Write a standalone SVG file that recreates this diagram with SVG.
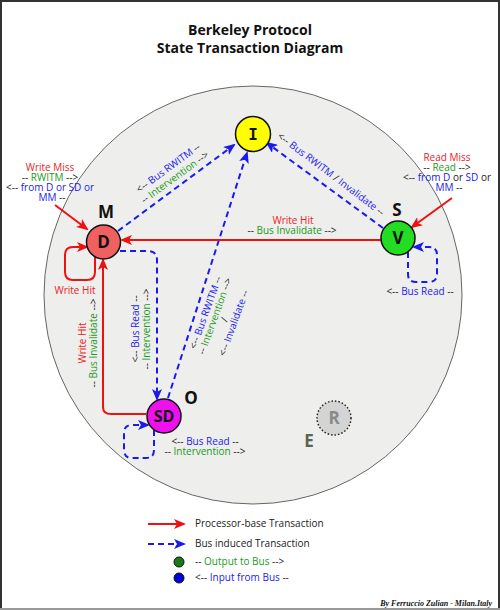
<svg xmlns="http://www.w3.org/2000/svg" width="500" height="610" viewBox="0 0 500 610">
<style>
text{font-family:"Open Sans","Noto Sans","DejaVu Sans",sans-serif;font-size:10px;fill:#222;}
.c{text-anchor:middle;}
.r{fill:#ee2222;}
.g{fill:#229922;}
.b{fill:#2222ee;}
.k{fill:#222;}
.state{font-size:17px;font-weight:bold;text-anchor:middle;fill:#111;}
.nl{font-size:17px;font-weight:bold;text-anchor:middle;fill:#111;}
.node{stroke:#111;stroke-width:1.5;}
.pt{fill:none;stroke:#ee1111;stroke-width:2;marker-end:url(#ar);}
.bt{fill:none;stroke:#1a1aee;stroke-width:2;stroke-dasharray:6,4;marker-end:url(#ab);}
</style>
<defs>
<marker id="ar" markerUnits="userSpaceOnUse" markerWidth="12" markerHeight="10" refX="10" refY="5" orient="auto"><path d="M0,0 L12,5 L0,10 L3,5 Z" fill="#ee1111"/></marker>
<marker id="ab" markerUnits="userSpaceOnUse" markerWidth="12" markerHeight="10" refX="10" refY="5" orient="auto"><path d="M0,0 L12,5 L0,10 L3,5 Z" fill="#1a1aee"/></marker>
</defs>
<rect x="0" y="0" width="500" height="610" fill="#ffffff"/>
<path d="M1,608 V1 H499 V608" fill="none" stroke="#333" stroke-width="2"/>
<line x1="0" y1="609" x2="500" y2="609" stroke="#999" stroke-width="2"/>
<text x="250" y="35" class="c" style="font-size:14px;font-weight:bold;fill:#111">Berkeley Protocol</text>
<text x="250" y="53" class="c" style="font-size:14px;font-weight:bold;fill:#111">State Transaction Diagram</text>
<circle cx="253" cy="295" r="209" fill="#eeeeec" stroke="#666" stroke-width="1"/>

<g id="connectors">
<path class="bt" d="M118,231 L234,145"/>
<path class="bt" d="M383,228 L267,143"/>
<path class="bt" d="M168,398 L247,153"/>
<path class="bt" d="M120,251 H148 Q157,251 157,260 V399"/>
<path class="bt" d="M154,430 V450 Q154,458 146,458 H132 Q124,458 124,450 V433 Q124,425 132,425 H148"/>
<path class="bt" d="M408,252 V274 Q408,282 416,282 H429 Q437,282 437,274 V255 Q437,247 429,247 H414"/>
<path class="pt" d="M95,257 V272 Q95,280 87,280 H73 Q65,280 65,272 V255 Q65,247 73,247 H87"/>
<path class="pt" d="M146,414 H111 Q103,414 103,407 V260"/>
<path class="pt" d="M381,240 H122"/>
<path class="pt" d="M55,205 L87,229"/>
<path class="pt" d="M452,198 L412,227"/>

<text x="50" y="171" class="c r">Write Miss</text>
<text x="50" y="181" class="c">-- <tspan class="g">RWITM</tspan> --&gt;</text>
<text x="50" y="191" class="c">&lt;-- <tspan class="b">from D or SD or</tspan></text>
<text x="52" y="201" class="c"><tspan class="b">MM</tspan> --</text>

<text x="447" y="161" class="c r">Read Miss</text>
<text x="447" y="171" class="c">-- <tspan class="g">Read</tspan> --&gt;</text>
<text x="447" y="181" class="c">&lt;-- <tspan class="b">from D</tspan> or <tspan class="b">SD</tspan> or</text>
<text x="449" y="191" class="c"><tspan class="b">MM</tspan> --</text>

<text x="75" y="294" class="c r">Write Hit</text>

<text x="293" y="224" class="c r">Write Hit</text>
<text x="292" y="234" class="c">-- <tspan class="g">Bus Invalidate</tspan> --&gt;</text>

<g transform="translate(88,343) rotate(-90)">
<text x="0" y="-2" class="c r">Write Hit</text>
<text x="0" y="8.5" class="c">-- <tspan class="g">Bus Invalidate</tspan> --&gt;</text>
</g>

<g transform="translate(141,329) rotate(-90)">
<text x="0" y="-2" class="c">&lt;-- <tspan class="b">Bus Read</tspan> --</text>
<text x="0" y="8.5" class="c">-- <tspan class="g">Intervention</tspan> --&gt;</text>
</g>

<g transform="translate(171.5,172.5) rotate(-36)">
<text x="0" y="-2.2" class="c">&lt;-- <tspan class="b">Bus RWITM</tspan> --</text>
<text x="0" y="9.2" class="c">-- <tspan class="g">Intervention</tspan> --&gt;</text>
</g>

<g transform="translate(331,174) rotate(37)">
<text x="0" y="3.5" class="c">&lt;-- <tspan class="b">Bus RWITM</tspan> / <tspan class="b">Invalidate</tspan> --</text>
</g>

<g transform="translate(220,318) rotate(-70)">
<text x="0" y="-12" class="c">&lt;-- <tspan class="b">Bus RWITM</tspan> --</text>
<text x="0" y="-2" class="c">-- <tspan class="g">Intervention</tspan> --&gt;</text>
<text x="0" y="8" class="c">/</text>
<text x="0" y="18" class="c">&lt;-- <tspan class="b">Invalidate</tspan> --</text>
</g>

<text x="420" y="295" class="c">&lt;-- <tspan class="b">Bus Read</tspan> --</text>
<text x="205" y="445" class="c">&lt;-- <tspan class="b">Bus Read</tspan> --</text>
<text x="205" y="455" class="c">-- <tspan class="g">Intervention</tspan> --&gt;</text>
</g>

<g id="node-I">
<circle class="node" cx="253" cy="134" r="17.5" fill="#ffff00"/>
<text x="253" y="140" class="nl" style="font-family:'DejaVu Sans Mono',monospace;font-size:16px">I</text>
</g>
<g id="node-D">
<circle class="node" cx="103.5" cy="242" r="17" fill="#f06060"/>
<text x="103.5" y="248" class="nl">D</text>
<text x="106" y="218" class="state">M</text>
</g>
<g id="node-V">
<circle class="node" cx="398" cy="238" r="17" fill="#22dd22"/>
<text x="398" y="244" class="nl">V</text>
<text x="397" y="216" class="state">S</text>
</g>
<g id="node-SD">
<circle class="node" cx="164" cy="416" r="17" fill="#ee11ee"/>
<text x="164" y="422" class="nl" style="font-size:16px">SD</text>
<text x="191" y="404" class="state">O</text>
</g>
<g id="node-R">
<circle cx="334" cy="418" r="17" fill="#d4d4d4" stroke="#222" stroke-width="1.5" stroke-dasharray="1.5,2"/>
<text x="334" y="424" class="nl" style="fill:#8a8a8a">R</text>
<text x="309" y="447" class="state" style="fill:#556655">E</text>
</g>

<g id="legend">
<path class="pt" d="M148,524 H184"/>
<text x="195" y="527">Processor-base Transaction</text>
<path class="bt" d="M148,544 H184"/>
<text x="195" y="547">Bus induced Transaction</text>
<circle cx="179" cy="562" r="5" fill="#1a7a1a" stroke="#111" stroke-width="1"/>
<text x="195" y="565">-- <tspan class="g">Output to Bus</tspan> --&gt;</text>
<circle cx="179" cy="578" r="5" fill="#0000dd" stroke="#111" stroke-width="1"/>
<text x="195" y="581">&lt;-- <tspan class="b">Input from Bus</tspan> --</text>
</g>
<text x="492" y="606" style="font-family:'Liberation Serif',serif;font-size:8px;font-style:italic;font-weight:bold;text-anchor:end;fill:#111">By Ferruccio Zulian - Milan.Italy</text>
</svg>
